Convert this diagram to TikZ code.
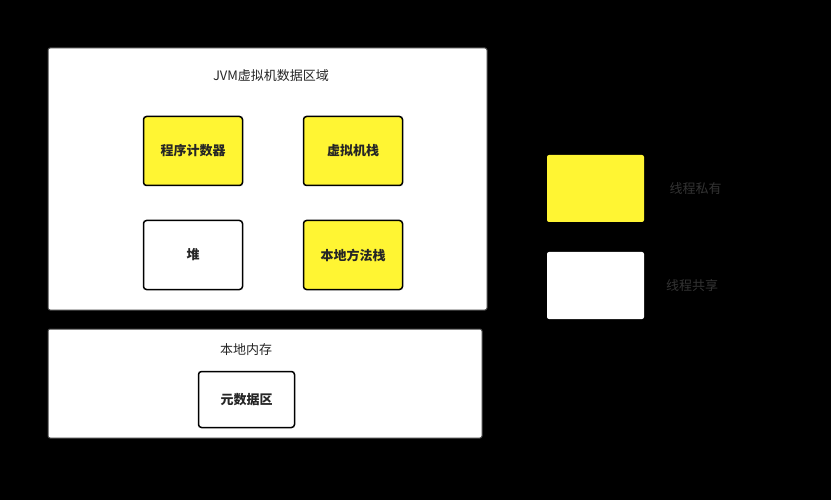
\documentclass[tikz,border=0pt]{standalone}
\usepackage{fontspec}
\setmainfont{Noto Sans CJK SC}
\usepackage{tikz}
\usetikzlibrary{positioning}

\begin{document}
\begin{tikzpicture}[x=1pt, y=-1pt,
	area/.style={draw=black!75, fill=white, rounded corners=2pt, line width=1pt},
	part/.style={draw=black, rounded corners=3pt, line width=1.5pt, minimum width=99pt, minimum height=69pt, font=\bfseries\fontsize{13}{15}\selectfont, text=black!85},
	key/.style={rounded corners=2pt, minimum width=97pt, minimum height=67pt}]
	\fill [black] (0, 0) rectangle (831, 500);
	\useasboundingbox (0, 0) rectangle (831, 500);
	
	% data areas
	\filldraw [area] (48, 48) rectangle (487, 310);
	\node (jvm) at (271, 76) [font=\fontsize{13}{15}\selectfont, text=black!85] {JVM虚拟机数据区域};
	\filldraw [area] (48, 329) rectangle (482, 438);
	\node (native) at (246, 350) [font=\fontsize{13}{15}\selectfont, text=black!85] {本地内存};
	
	\node [part, fill=yellow!80!white] (pc) at (193, 151) {程序计数器};
	\node [part, fill=yellow!80!white] (vmstack) at (353, 151) {虚拟机栈};
	\node [part, fill=white] (heap) at (193, 255) {堆};
	\node [part, fill=yellow!80!white] (nstack) at (353, 255) {本地方法栈};
	\node [part, fill=white, minimum width=96pt, minimum height=56pt] (meta) at (246.5, 399.5) {元数据区};
	
	% legend
	\node [key, fill=yellow!80!white] (private) at (595.5, 188.5) {};
	\node [right=22pt of private, text=black!80, font=\fontsize{13}{15}\selectfont] (privtext) {线程私有};
	\node [key, fill=white] (shared) at (595.5, 285.5) {};
	\node [right=18.5pt of shared, text=black!80, font=\fontsize{13}{15}\selectfont] (sharetext) {线程共享};
	
\end{tikzpicture}
\end{document}
